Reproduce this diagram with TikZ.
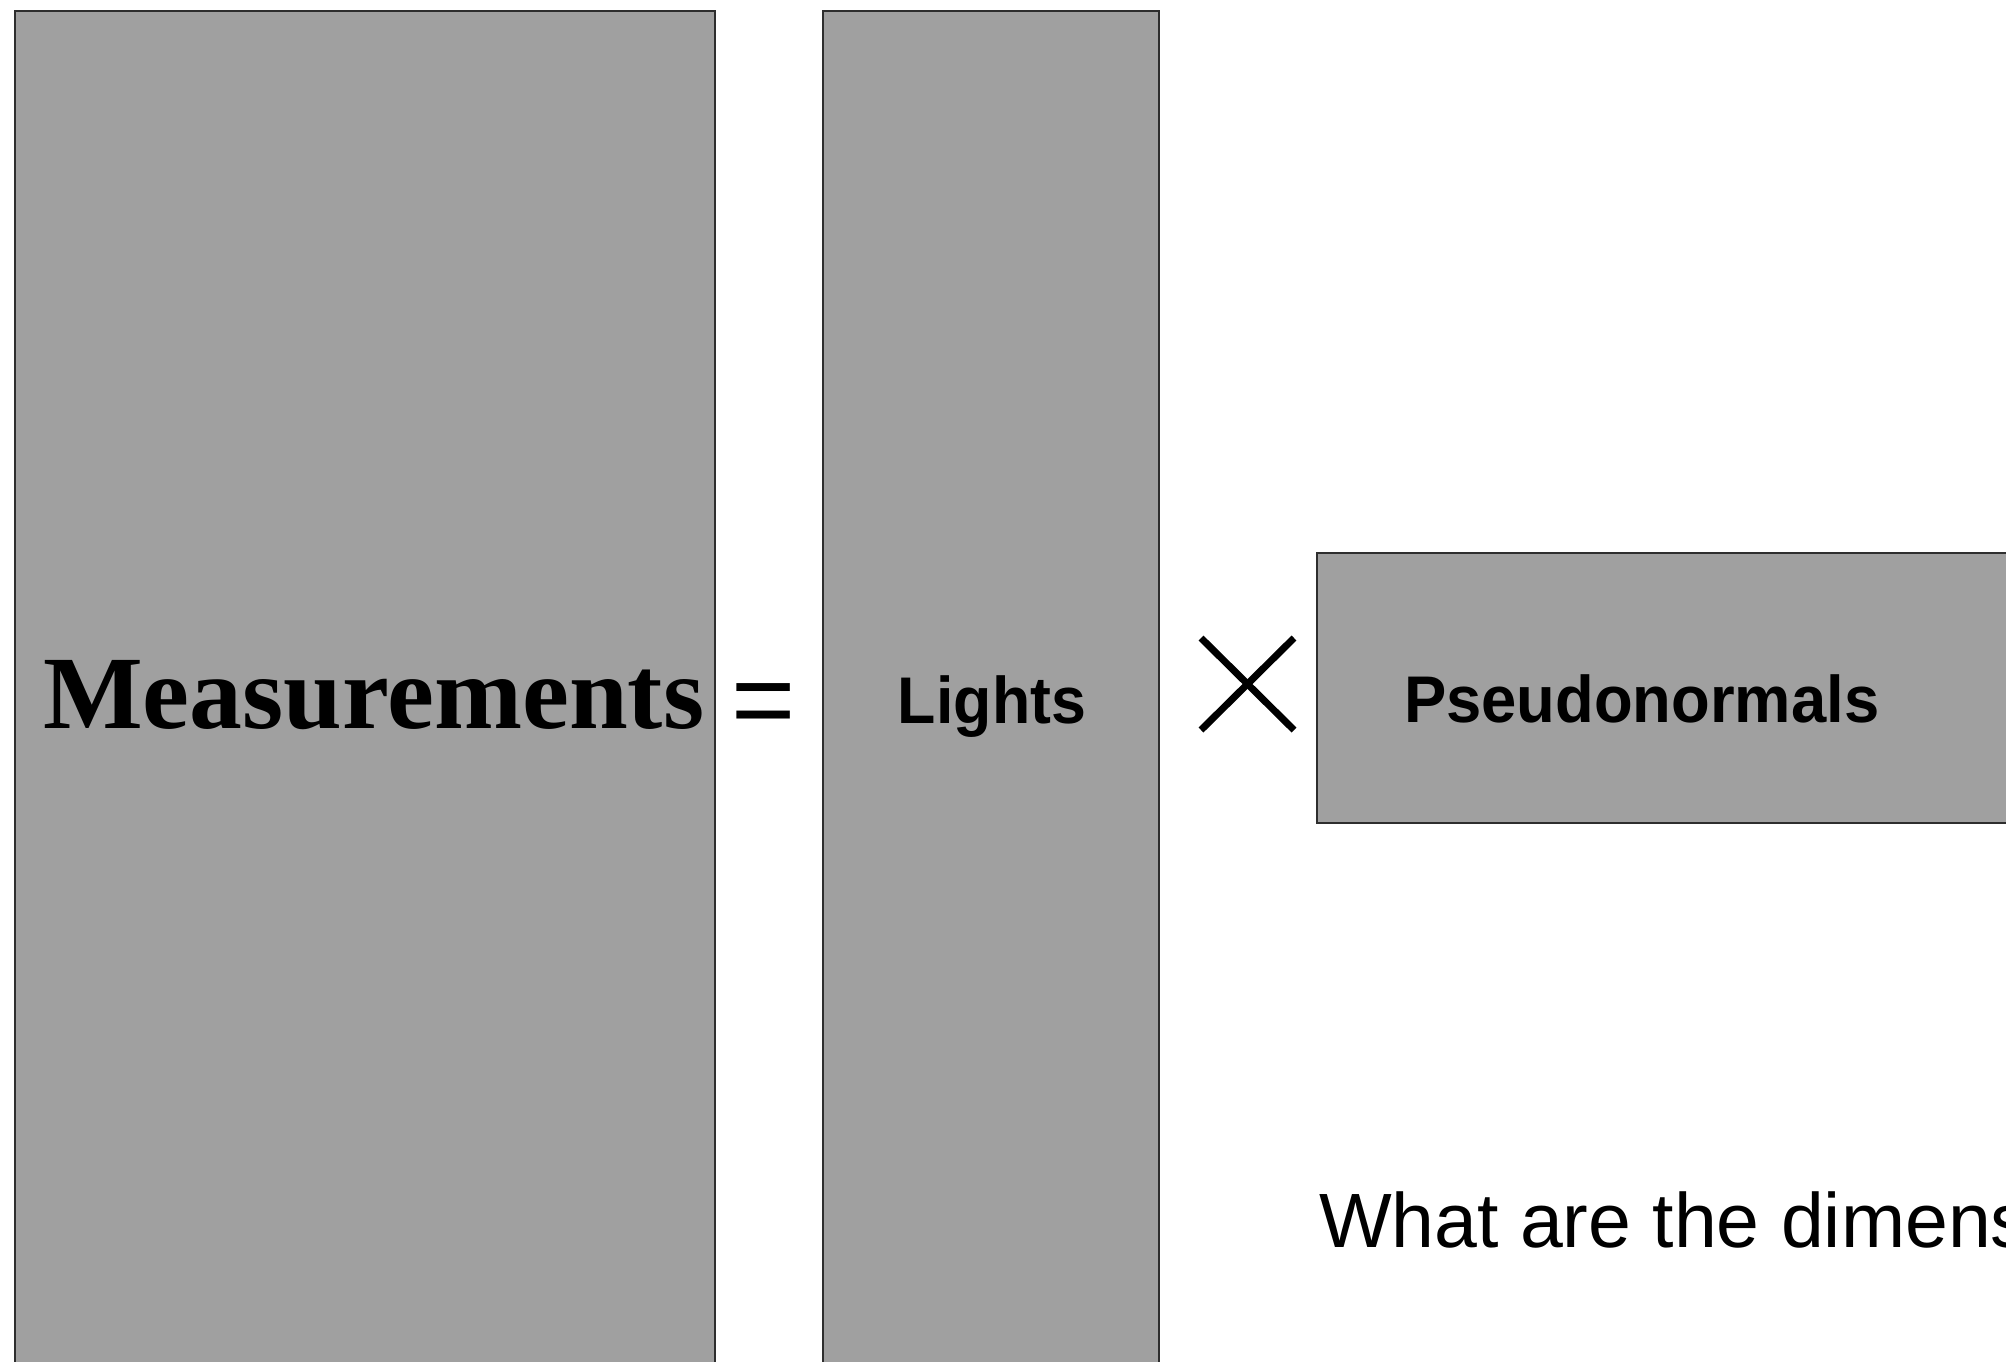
\documentclass[tikz,border=0pt]{standalone}
\usepackage{fontspec}
\usepackage{graphicx}
\setmainfont{Liberation Serif}
\newfontfamily\helv{Liberation Sans}
\definecolor{boxfill}{HTML}{A0A0A0}
\definecolor{boxline}{HTML}{2E2E2E}
\begin{document}
\begin{tikzpicture}[x=1pt,y=-1pt,
  matbox/.style={draw=boxline,fill=boxfill,line width=2.5pt,inner sep=0pt,outer sep=0pt},
  lbl/.style={inner sep=0pt,outer sep=0pt,anchor=base west}]
\useasboundingbox (0,0) rectangle (2006,1361);
\clip (0,0) rectangle (2006,1361);
% matrices
\node[matbox,minimum width=700pt,minimum height=1399pt] (meas) at (365,710.5) {};
\node[matbox,minimum width=336pt,minimum height=1399pt] (lights) at (991,710.5) {};
\node[matbox,minimum width=733pt,minimum height=270pt] (pseudo) at (1683.5,688) {};
% labels
\node[lbl] (tmeas) at (43,728) {\fontsize{104}{104}\selectfont\bfseries\scalebox{1.016}[1]{Measurements}};
\node[lbl] (teq) at (731,737) {\helv\fontsize{110}{110}\selectfont =};
\node[lbl,anchor=base] (tlights) at (992,723) {\helv\bfseries\fontsize{66}{66}\selectfont\scalebox{0.95}[1]{Lights}};
\node[lbl] (tpseudo) at (1404,722) {\helv\bfseries\fontsize{66}{66}\selectfont\scalebox{0.96}[1]{Pseudonormals}};
\node[lbl] (tq) at (1319,1247) {\helv\fontsize{77}{77}\selectfont What are the dimens};
% multiplication sign
\coordinate (xa) at (1201,638);
\coordinate (xb) at (1294,730);
\coordinate (xc) at (1201,730);
\coordinate (xd) at (1294,638);
\draw[line width=7pt,black] (xa) -- (xb);
\draw[line width=7pt,black] (xc) -- (xd);
\end{tikzpicture}
\end{document}
